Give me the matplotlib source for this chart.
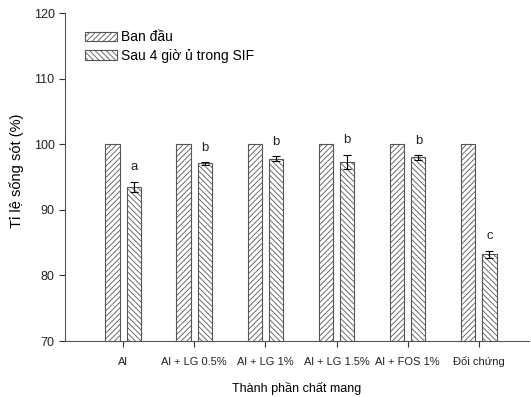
import matplotlib.pyplot as plt
import numpy as np

plt.rcParams['font.family'] = ['Liberation Sans', 'DejaVu Sans']
plt.rcParams['hatch.linewidth'] = 0.6
plt.rcParams['hatch.color'] = '#333333'

# Số liệu
categories = ['Al', 'Al + LG 0.5%', 'Al + LG 1%', 'Al + LG 1.5%', 'Al + FOS 1%', 'Đối chứng']
ban_dau = [100, 100, 100, 100, 100, 100]
sau_4h = [93.5, 97.1, 97.8, 97.3, 98.0, 83.2]
sau_err = [0.8, 0.2, 0.35, 1.1, 0.35, 0.6]
letters = ['a', 'b', 'b', 'b', 'b', 'c']

x = np.arange(len(categories))
w = 0.2

fig = plt.figure(figsize=(5.31, 3.97), dpi=100)
ax = fig.add_axes([0.1224, 0.141, 0.873, 0.826])

ax.bar(x - 0.15, ban_dau, w, color='white', edgecolor='#555555', linewidth=0.8,
       hatch='//////', label='Ban đầu')
ax.bar(x + 0.15, sau_4h, w, color='white', edgecolor='#555555', linewidth=0.8,
       hatch='\\\\\\\\\\\\', label='Sau 4 giờ ủ trong SIF')
ax.errorbar(x + 0.15, sau_4h, yerr=sau_err, fmt='none', ecolor='black',
            elinewidth=0.8, capsize=3, capthick=0.8)

for xi, v, e, t in zip(x, sau_4h, sau_err, letters):
    ax.text(xi + 0.15, v + e + 2.2, t, ha='center', va='center', fontsize=9.5, color='#222222')

ax.set_ylim(70, 120)
ax.set_xlim(-0.817, 5.70)
ax.set_yticks([70, 80, 90, 100, 110, 120])
ax.set_xticks(x)
ax.set_xticklabels(categories, fontsize=8)
ax.tick_params(axis='y', labelsize=9, direction='out', length=4, width=0.8, colors='#333333')
ax.tick_params(axis='x', direction='out', length=4, width=0.8, pad=13, colors='#333333')
for lab in ax.get_xticklabels():
    lab.set_va('baseline')
for lab in ax.get_xticklabels() + ax.get_yticklabels():
    lab.set_color('#222222')

ax.spines['top'].set_visible(False)
ax.spines['right'].set_visible(False)
ax.spines['left'].set_color('#555555')
ax.spines['bottom'].set_color('#555555')

ax.set_ylabel('Tỉ lệ sống sót (%)', fontsize=10.5)
ax.yaxis.set_label_coords(-0.088, 0.52)
ax.set_xlabel('Thành phần chất mang', fontsize=9)
ax.xaxis.set_label_coords(0.5, -0.125)

ax.legend(loc='upper left', bbox_to_anchor=(0.005, 1.0), frameon=False, fontsize=10,
          handlelength=2.3, handleheight=0.7, handletextpad=0.3, labelspacing=0.3,
          borderaxespad=0.85)

fig.savefig('out.png', dpi=100)
